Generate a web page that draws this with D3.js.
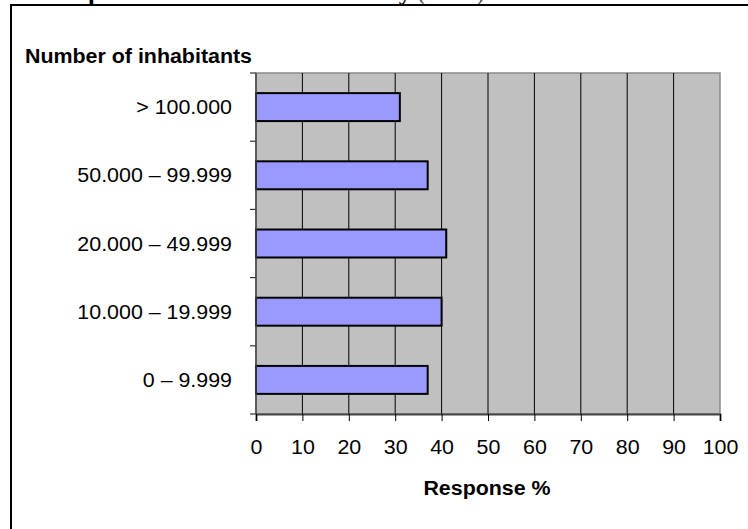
<!DOCTYPE html>
<html>
<head>
<meta charset="utf-8">
<script src="https://cdn.jsdelivr.net/npm/d3@7"></script>
<style>
  html, body { margin: 0; padding: 0; background: #fff; }
  svg { display: block; }
  text { font-family: "Liberation Sans", Arial, sans-serif; fill: #000; }
</style>
</head>
<body>
<svg id="chart" width="748" height="529"></svg>
<script>
// Municipality size classes, listed bottom to top as drawn
const categories = ["0 – 9.999", "10.000 – 19.999", "20.000 – 49.999", "50.000 – 99.999", "> 100.000"];
// Response rate (%) per size class
const responses = [37, 40, 41, 37, 31];
// Values shown on the response axis
const xTickValues = [0, 10, 20, 30, 40, 50, 60, 70, 80, 90, 100];

const titleText = "Response rates across the country";
const titleYear = " (2004)";
const yAxisTitle = "Number of inhabitants";
const xAxisTitle = "Response %";

const svg = d3.select("#chart");
const sx = 1.07;          // horizontal stretch of the lettering
const fs = 20;            // base font size

// Plot rectangle
const plot = { left: 256, right: 720, top: 73, bottom: 414 };

const x = d3.scaleLinear().domain([0, 100]).range([plot.left, plot.right]);
const y = d3.scaleBand()
  .domain(categories.slice().reverse())
  .range([plot.top, plot.bottom])
  .paddingInner(0.59)
  .paddingOuter(0.295);

// Title line, mostly above the page edge
const title = svg.append("text")
  .attr("y", 0)
  .style("font-family", "'Liberation Serif', 'Times New Roman', serif")
  .style("font-weight", "bold")
  .style("font-size", "22px");
title.append("tspan").text(titleText);
title.append("tspan").text(titleYear).style("font-weight", "normal").style("fill", "#555");
{
  const node = title.node();
  const w1 = node.getSubStringLength(0, 3);
  const w2 = node.getSubStringLength(0, 32);
  const k = (399 - 88) / (w2 - w1);
  title.style("font-size", (22 * k) + "px").attr("x", 88 - w1 * k);
}

// Outer frame
svg.append("rect")
  .attr("x", 11).attr("y", 5)
  .attr("width", 760).attr("height", 560)
  .attr("fill", "none")
  .attr("stroke", "#000")
  .attr("stroke-width", 2);

// Plot background
svg.append("rect")
  .attr("x", plot.left).attr("y", plot.top)
  .attr("width", plot.right - plot.left).attr("height", plot.bottom - plot.top)
  .attr("fill", "#c0c0c0")
  .attr("stroke", "#8a8a8a")
  .attr("stroke-width", 1.5);

// Vertical gridlines
svg.append("g")
  .selectAll("line")
  .data(xTickValues.filter(v => v > 0 && v < 100))
  .join("line")
  .attr("x1", d => x(d)).attr("x2", d => x(d))
  .attr("y1", plot.top).attr("y2", plot.bottom)
  .attr("stroke", "#000")
  .attr("stroke-width", 1);

// Bars
svg.append("g")
  .selectAll("rect")
  .data(categories.map((c, i) => ({ c, v: responses[i] })))
  .join("rect")
  .attr("x", x(0))
  .attr("y", d => y(d.c))
  .attr("width", d => x(d.v) - x(0))
  .attr("height", y.bandwidth())
  .attr("fill", "#9999ff")
  .attr("stroke", "#000")
  .attr("stroke-width", 2);

// Category axis: labels
const yAxis = svg.append("g")
  .attr("transform", `translate(${plot.left},0)`)
  .call(d3.axisLeft(y).tickSize(0).tickPadding(0));
yAxis.select(".domain").remove();
yAxis.selectAll("text")
  .attr("x", -24 / sx)
  .attr("dy", "0.35em")
  .attr("transform", `scale(${sx},1)`)
  .style("font-size", fs + "px");

// Category axis: line and boundary ticks
const bounds = categories.map(c => y(c) - (y.step() - y.bandwidth()) / 2)
  .concat([plot.bottom]);
svg.append("g").selectAll("line")
  .data(bounds)
  .join("line")
  .attr("x1", plot.left - 6).attr("x2", plot.left)
  .attr("y1", d => d).attr("y2", d => d)
  .attr("stroke", "#333").attr("stroke-width", 1.2);
svg.append("line")
  .attr("x1", plot.left).attr("x2", plot.left)
  .attr("y1", plot.top).attr("y2", plot.bottom)
  .attr("stroke", "#444").attr("stroke-width", 1.5);

// Response axis
const xAxis = svg.append("g")
  .attr("transform", `translate(0,${plot.bottom})`)
  .call(d3.axisBottom(x).tickValues(xTickValues).tickSize(7).tickFormat(d3.format("d")));
xAxis.select(".domain")
  .attr("stroke", "#444").attr("stroke-width", 2);
xAxis.selectAll(".tick line").attr("stroke", "#000");
xAxis.selectAll("text")
  .attr("y", 40).attr("dy", 0)
  .attr("x", 0)
  .attr("transform", `scale(${sx},1)`)
  .style("font-size", fs + "px");

// Axis titles
svg.append("text")
  .attr("transform", `translate(25,62.5) scale(${sx},1)`)
  .style("font-size", fs + "px")
  .style("font-weight", "bold")
  .text(yAxisTitle);

svg.append("text")
  .attr("transform", `translate(${(plot.left + plot.right) / 2 - 1},495) scale(${sx},1)`)
  .attr("text-anchor", "middle")
  .style("font-size", fs + "px")
  .style("font-weight", "bold")
  .text(xAxisTitle);
</script>
</body>
</html>
